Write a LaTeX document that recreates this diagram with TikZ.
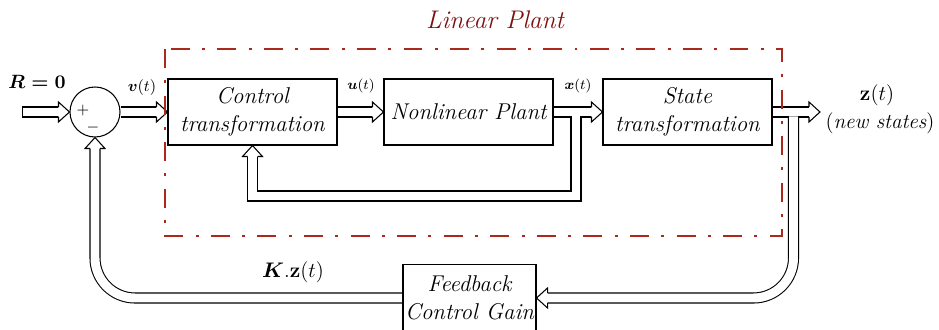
\documentclass[tikz,border=0pt]{standalone}
\usepackage{amsmath}
\usetikzlibrary{backgrounds}
\definecolor{plantred}{RGB}{170,40,28}
\definecolor{titlered}{RGB}{125,15,15}
\tikzset{
  block/.style={draw, fill=white, line width=0.6pt, minimum width=33.8mm,
    minimum height=13.2mm, inner sep=0pt, align=center,
    font=\fontsize{13}{16}\selectfont\itshape},
  pipe/.style={draw=white, line width=5.1pt, line join=miter, shorten >=1.8mm,
    preaction={draw=black, line width=6.3pt, shorten <=0pt}},
  sig/.style={font=\footnotesize},
  hollowtip/.pic={
    \fill[white] (0,0) -- (-11,-10) -- (-11,10) -- cycle;
    \draw[black, line width=0.6pt, line join=miter]
      (-11,-5) -- (-11,-10) -- (0,0) -- (-11,10) -- (-11,5);
  }
}
\begin{document}
\begin{tikzpicture}[x=0.2mm, y=-0.2mm]
\useasboundingbox (0,0) rectangle (939,330);
% blocks
\node[circle, draw, fill=white, line width=0.6pt, minimum size=10mm, inner sep=0pt] (sum) at (95,112) {};
\node[font=\small] (plus) at (83,111) {$+$};
\node[font=\small] (minus) at (93,128) {$-$};
\node[block] (ct) at (252.5,112) {Control\\transformation};
\node[block] (np) at (468.5,112) {Nonlinear Plant};
\node[block] (st) at (687.5,112) {State\\transformation};
\node[block, minimum width=26.6mm, minimum height=13.4mm] (fb) at (469.5,298) {Feedback\\Control Gain};
% signal labels
\node[font=\fontsize{11}{13}\selectfont] (rlabel) at (37,82) {$\boldsymbol{R=0}$};
\node[font=\small] (vlabel) at (142,88) {$\boldsymbol{v}(t)$};
\node[sig] (ulabel) at (361,86) {$\boldsymbol{u}(t)$};
\node[sig] (xlabel) at (578,86) {$\boldsymbol{x}(t)$};
\node[font=\large] (zlabel) at (877,95) {$\mathbf{z}(t)$};
\node[font=\large] (newlabel) at (880,123) {$(\textit{new states})$};
\node[font=\large] (klabel) at (293,272) {$\boldsymbol{K}.\mathbf{z}(t)$};
\node[titlered, font=\fontsize{14.5}{17}\selectfont\itshape] (title) at (495,20) {Linear Plant};
% free ends and branch points
\coordinate (rin) at (22,112);
\coordinate (zout) at (820,112);
\coordinate (xb) at (576,116.5);
\coordinate (xturn) at (576,196);
\coordinate (zb) at (793.5,116.5);
\begin{pgfonlayer}{background}
  \draw[pipe, shorten <=0.2mm] (rin) -- (sum.west);
  \draw[pipe] (sum.east) -- (ct.west);
  \draw[pipe] (ct.east) -- (np.west);
  \draw[pipe] (np.east) -- (st.west);
  \draw[pipe] (st.east) -- (zout);
  \draw[pipe] (xb) -- (xturn) -| (ct.south);
  \draw[pipe, rounded corners=8mm] (zb) |- (fb.east);
  \draw[pipe, rounded corners=8mm] (fb.west) -| (sum.south);
  \path (sum.west) pic {hollowtip};
  \path (ct.west) pic {hollowtip};
  \path (np.west) pic {hollowtip};
  \path (st.west) pic {hollowtip};
  \path (zout) pic {hollowtip};
  \path (ct.south) pic[rotate=90] {hollowtip};
  \path (fb.east) pic[rotate=180] {hollowtip};
  \path (sum.south) pic[rotate=90] {hollowtip};
\end{pgfonlayer}
% linear plant region
\draw[plantred, line width=1.1pt, dash pattern=on 10.8pt off 7pt on 1.7pt off 7pt]
  (165,49) rectangle (782,236);
\end{tikzpicture}
\end{document}
